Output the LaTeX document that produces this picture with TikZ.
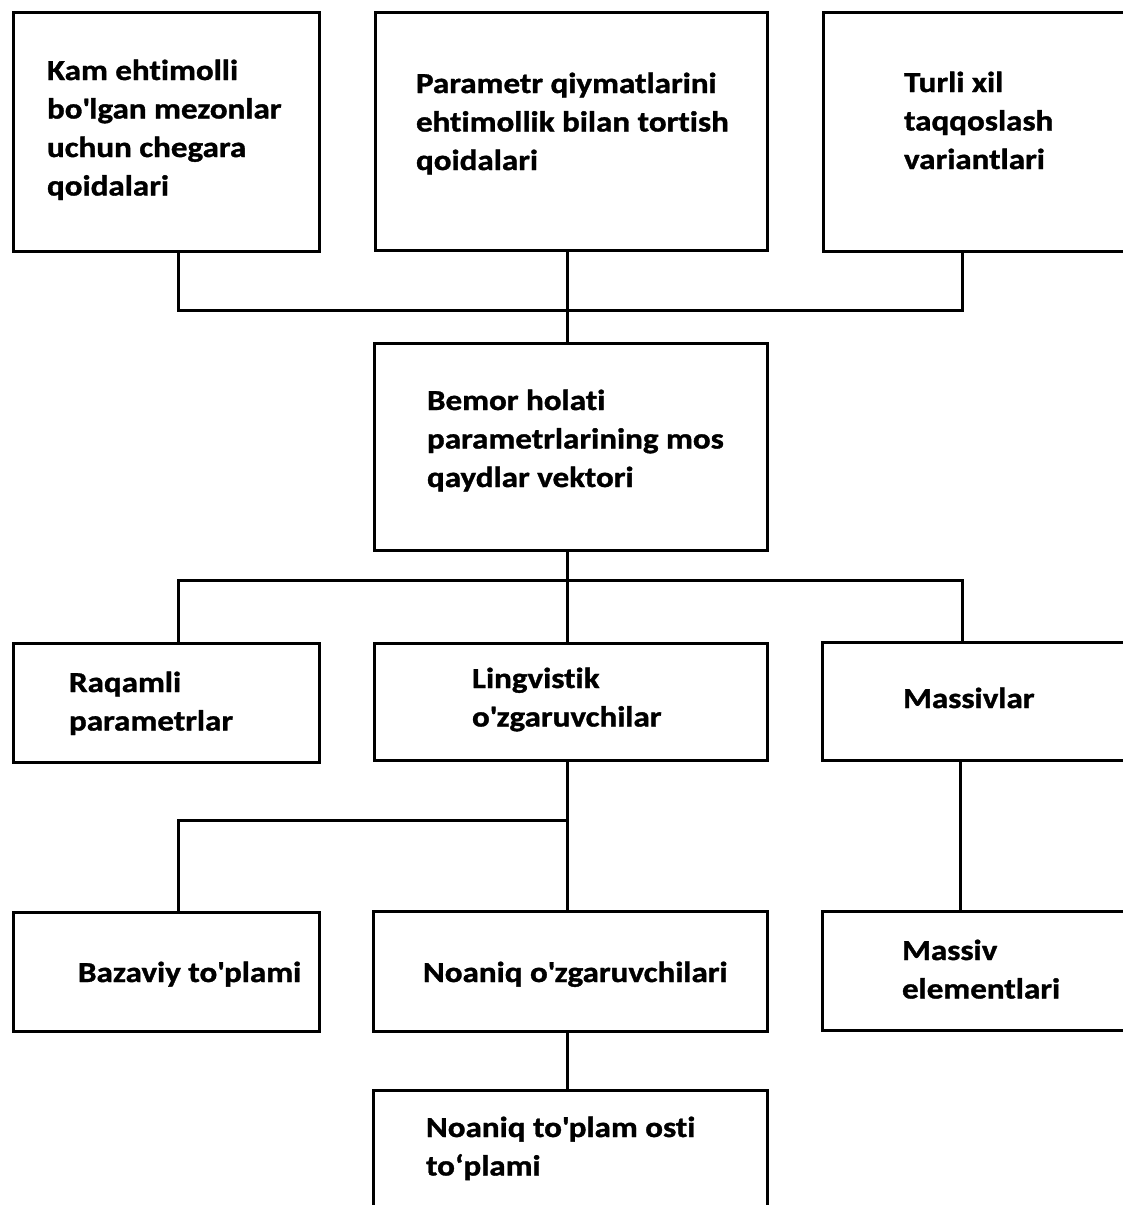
\documentclass[tikz,border=0pt]{standalone}
\usepackage{fontspec}
\newfontfamily\lblfont{Carlito}[FakeStretch=1.14, FakeBold=1.2, Ligatures=NoCommon]
\begin{document}
\begin{tikzpicture}[x=1pt,y=-1pt,
  box/.style={draw=black, line width=3pt, inner sep=0pt, outer sep=0pt, fill=none},
  lbl/.style={anchor=base west, align=left, inner sep=0pt, outer sep=0pt,
              font=\lblfont\bfseries\fontsize{29}{38.5}\selectfont},
  link/.style={draw=black, line width=3pt, line cap=rect}]
\useasboundingbox (0,0) rectangle (1123,1205);
\clip (0,0) rectangle (1123,1205);
\fill[white] (0,0) rectangle (1123,1205);

% top row (labels are placed by the baseline of their last line)
\node[box, minimum width=306pt, minimum height=239pt] (A) at (166,131.5) {};
\node[box, minimum width=392pt, minimum height=238pt] (B) at (571,131) {};
\node[box, minimum width=317pt, minimum height=239pt] (C) at (981.5,131.5) {};
\node[lbl] (tA) at (47,195.5) {Kam ehtimolli\\bo\textquotesingle lgan mezonlar\\uchun chegara\\qoidalari};
\node[lbl] (tB) at (416,170) {Parametr qiymatlarini\\ehtimollik bilan tortish\\qoidalari};
\node[lbl] (tC) at (904,169) {Turli xil\\taqqoslash\\variantlari};

% central record vector
\node[box, minimum width=393pt, minimum height=207pt] (D) at (570.5,446.5) {};
\node[lbl] (tD) at (427,487) {Bemor holati\\parametrlarining mos\\qaydlar vektori};

% second row
\node[box, minimum width=306pt, minimum height=119pt] (E) at (166,702.5) {};
\node[box, minimum width=393pt, minimum height=117pt] (F) at (570.5,701.5) {};
\node[box, minimum width=318pt, minimum height=118pt] (G) at (981,701) {};
\node[lbl] (tE) at (69,730.5) {Raqamli\\parametrlar};
\node[lbl] (tF) at (472,726.5) {Lingvistik\\o\textquotesingle zgaruvchilar};
\node[lbl] (tG) at (903,708) {Massivlar};

% third row
\node[box, minimum width=306pt, minimum height=119pt] (H) at (166,971.5) {};
\node[box, minimum width=394pt, minimum height=120pt] (I) at (570,971) {};
\node[box, minimum width=318pt, minimum height=119pt] (J) at (981,970.5) {};
\node[lbl] (tH) at (78,982) {Bazaviy to\textquotesingle plami};
\node[lbl] (tI) at (423,982) {Noaniq o\textquotesingle zgaruvchilari};
\node[lbl] (tJ) at (902,998.5) {Massiv\\elementlari};

% bottom box
\node[box, minimum width=394pt, minimum height=140pt] (K) at (570,1160) {};
\node[lbl] (tK) at (426,1175.5) {Noaniq to\textquotesingle plam osti\\to‘plami};

% junction points of the connectors
\coordinate (t1) at (178,310);
\coordinate (t2) at (567,310);
\coordinate (t3) at (962,310);
\coordinate (m1) at (178,580);
\coordinate (m2) at (567,580);
\coordinate (m3) at (962,580);
\coordinate (b1) at (178,820);
\coordinate (b2) at (567,820);
\coordinate (r1) at (960,820);

% connectors
\draw[link] (A.south -| t1) -- (t1) -- (t3) -- (C.south -| t3);
\draw[link] (B.south -| t2) -- (D.north -| t2);
\draw[link] (E.north -| m1) -- (m1) -- (m3) -- (G.north -| m3);
\draw[link] (D.south -| m2) -- (F.north -| m2);
\draw[link] (H.north -| b1) -- (b1) -- (b2);
\draw[link] (F.south -| b2) -- (I.north -| b2);
\draw[link] (G.south -| r1) -- (J.north -| r1);
\draw[link] (I.south -| b2) -- (K.north -| b2);
\end{tikzpicture}
\end{document}
